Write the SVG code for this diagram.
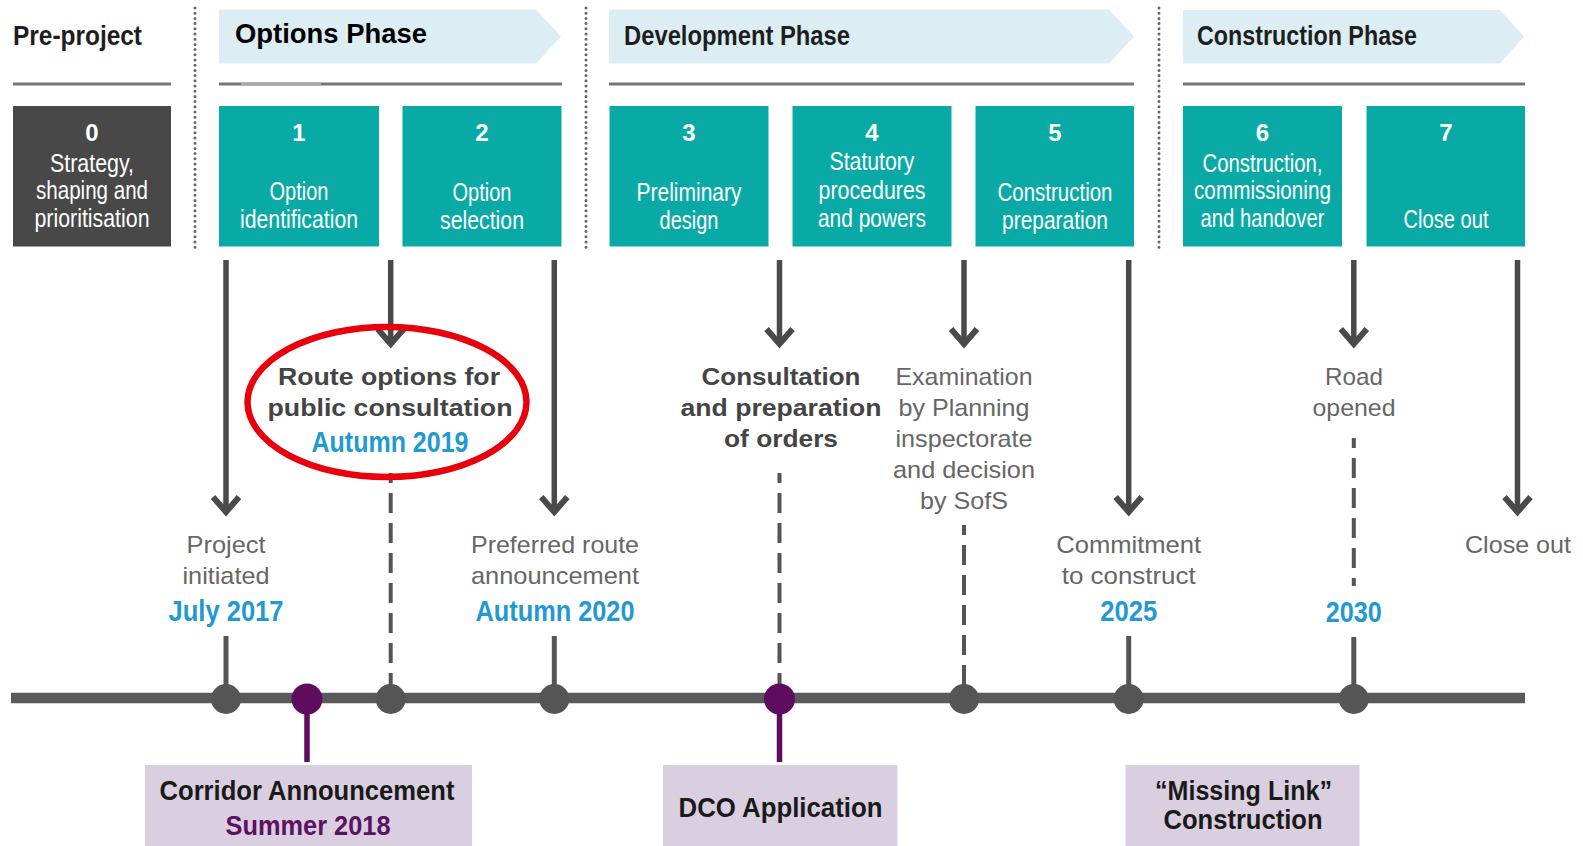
<svg xmlns="http://www.w3.org/2000/svg" width="1583" height="846" viewBox="0 0 1583 846">
<style>
.nar{font-family:"Liberation Sans Narrow","Liberation Sans",Arial,sans-serif}
.reg{font-family:"Liberation Sans",Arial,sans-serif}
.hdr{font-size:27px;font-weight:bold;fill:#1e1e1e}
.ban{fill:#dceef3}
.rule{stroke:#767676;stroke-width:3}
.dots{stroke:#666;stroke-width:3;stroke-linecap:round;stroke-dasharray:0 5.2}
.box{fill:#09aaa6}
.box0{fill:#484848}
.num{font-size:24px;font-weight:bold;fill:#fff;text-anchor:middle}
.lab{font-size:25px;fill:#fff;text-anchor:middle}
.mid{font-size:24px;fill:#666;text-anchor:middle}
.midb{font-size:24px;font-weight:bold;fill:#444;text-anchor:middle}
.date{font-size:30px;font-weight:bold;fill:#2399d3;text-anchor:middle}
.arrow{stroke:#4a4a4a;stroke-width:5.5;fill:none}
.dash{stroke:#555;stroke-width:4;stroke-dasharray:20 10;stroke-dashoffset:10;fill:none}
.stub{stroke:#555;stroke-width:5;fill:none}
.pstub{stroke:#5e0d5e;stroke-width:5.5;fill:none}
.dot{fill:#555}
.pdot{fill:#5e0d5e}
.bbox{fill:#d9cfe0}
.btxt{font-size:27px;font-weight:bold;fill:#1a1a1a;text-anchor:middle}
.ptxt{font-size:27px;font-weight:bold;fill:#5c1262;text-anchor:middle}
</style>
<defs>
<marker id="chev" markerUnits="userSpaceOnUse" viewBox="-24 -20 34 40" refX="0" refY="0" markerWidth="34" markerHeight="40" orient="auto" overflow="visible">
<path d="M-15,-13 L0,0 L-15,13" fill="none" stroke="#4a4a4a" stroke-width="6" stroke-miterlimit="10"/>
</marker>
</defs>
<rect width="1583" height="846" fill="#fff"/>

<g id="headers">
<text class="nar hdr" x="13" y="45" textLength="129" lengthAdjust="spacingAndGlyphs">Pre-project</text>
<line class="rule" x1="13" y1="84" x2="171" y2="84"/>
<polygon class="ban" points="219,9.5 536,9.5 561,36.5 536,63.5 219,63.5"/>
<text class="reg" x="235" y="43" font-size="27" font-weight="bold" fill="#000" textLength="192" lengthAdjust="spacingAndGlyphs">Options Phase</text>
<line class="rule" x1="219" y1="84" x2="562" y2="84"/>
<line x1="241" y1="84" x2="321" y2="84" stroke="#a8a8a8" stroke-width="3"/>
<polygon class="ban" points="609,9.5 1109,9.5 1134,36.5 1109,63.5 609,63.5"/>
<text class="nar hdr" x="624" y="45" textLength="226" lengthAdjust="spacingAndGlyphs">Development Phase</text>
<line class="rule" x1="609" y1="84" x2="1134" y2="84"/>
<polygon class="ban" points="1183,10 1500,10 1524,36.5 1500,63.5 1183,63.5"/>
<text class="nar hdr" x="1197" y="45" textLength="220" lengthAdjust="spacingAndGlyphs">Construction Phase</text>
<line class="rule" x1="1183" y1="84" x2="1525" y2="84"/>
<line class="dots" x1="195" y1="8" x2="195" y2="248"/>
<line class="dots" x1="586" y1="8" x2="586" y2="248"/>
<line class="dots" x1="1159" y1="8" x2="1159" y2="248"/>
</g>

<g id="stage0">
<rect class="box0" x="13" y="106" width="158" height="140.5"/>
<text class="nar num" x="92" y="141">0</text>
<text class="nar lab" x="92" y="171.5" textLength="84" lengthAdjust="spacingAndGlyphs">Strategy,</text>
<text class="nar lab" x="92" y="199" textLength="112" lengthAdjust="spacingAndGlyphs">shaping and</text>
<text class="nar lab" x="92" y="227" textLength="115" lengthAdjust="spacingAndGlyphs">prioritisation</text>
</g>
<g id="stage1">
<rect class="box" x="219" y="106" width="160" height="140.5"/>
<text class="nar num" x="299" y="141">1</text>
<text class="nar lab" x="299" y="199.5" textLength="59" lengthAdjust="spacingAndGlyphs">Option</text>
<text class="nar lab" x="299" y="227.5" textLength="118" lengthAdjust="spacingAndGlyphs">identification</text>
</g>
<g id="stage2">
<rect class="box" x="402.5" y="106" width="159" height="140.5"/>
<text class="nar num" x="482" y="141">2</text>
<text class="nar lab" x="482" y="201" textLength="59" lengthAdjust="spacingAndGlyphs">Option</text>
<text class="nar lab" x="482" y="229" textLength="84" lengthAdjust="spacingAndGlyphs">selection</text>
</g>
<g id="stage3">
<rect class="box" x="609.5" y="106" width="159" height="140.5"/>
<text class="nar num" x="689" y="141">3</text>
<text class="nar lab" x="689" y="201" textLength="105" lengthAdjust="spacingAndGlyphs">Preliminary</text>
<text class="nar lab" x="689" y="229" textLength="59" lengthAdjust="spacingAndGlyphs">design</text>
</g>
<g id="stage4">
<rect class="box" x="792.5" y="106" width="159" height="140.5"/>
<text class="nar num" x="872" y="141">4</text>
<text class="nar lab" x="872" y="170" textLength="85" lengthAdjust="spacingAndGlyphs">Statutory</text>
<text class="nar lab" x="872" y="199" textLength="107" lengthAdjust="spacingAndGlyphs">procedures</text>
<text class="nar lab" x="872" y="227" textLength="108" lengthAdjust="spacingAndGlyphs">and powers</text>
</g>
<g id="stage5">
<rect class="box" x="975.5" y="106" width="158.5" height="140.5"/>
<text class="nar num" x="1055" y="141">5</text>
<text class="nar lab" x="1055" y="201" textLength="115" lengthAdjust="spacingAndGlyphs">Construction</text>
<text class="nar lab" x="1055" y="229" textLength="106" lengthAdjust="spacingAndGlyphs">preparation</text>
</g>
<g id="stage6">
<rect class="box" x="1183" y="106" width="159" height="140.5"/>
<text class="nar num" x="1262.5" y="141">6</text>
<text class="nar lab" x="1262.5" y="171.5" textLength="120" lengthAdjust="spacingAndGlyphs">Construction,</text>
<text class="nar lab" x="1262.5" y="199" textLength="137" lengthAdjust="spacingAndGlyphs">commissioning</text>
<text class="nar lab" x="1262.5" y="227" textLength="124" lengthAdjust="spacingAndGlyphs">and handover</text>
</g>
<g id="stage7">
<rect class="box" x="1366.5" y="106" width="158.5" height="140.5"/>
<text class="nar num" x="1446" y="141">7</text>
<text class="nar lab" x="1446" y="228" textLength="85" lengthAdjust="spacingAndGlyphs">Close out</text>
</g>

<g id="connectors">
<line class="arrow" x1="226" y1="260" x2="226" y2="512" marker-end="url(#chev)"/>
<line class="arrow" x1="390.7" y1="260" x2="390.7" y2="344" marker-end="url(#chev)"/>
<line class="arrow" x1="554.3" y1="260" x2="554.3" y2="512" marker-end="url(#chev)"/>
<line class="arrow" x1="779.5" y1="260" x2="779.5" y2="344" marker-end="url(#chev)"/>
<line class="arrow" x1="964" y1="260" x2="964" y2="344" marker-end="url(#chev)"/>
<line class="arrow" x1="1128.7" y1="260" x2="1128.7" y2="512" marker-end="url(#chev)"/>
<line class="arrow" x1="1353.8" y1="260" x2="1353.8" y2="344" marker-end="url(#chev)"/>
<line class="arrow" x1="1517.5" y1="260" x2="1517.5" y2="512" marker-end="url(#chev)"/>
<line class="dash" x1="390.7" y1="473" x2="390.7" y2="686"/>
<line class="dash" x1="779.5" y1="473" x2="779.5" y2="686"/>
<line class="dash" x1="964" y1="525" x2="964" y2="686"/>
<line class="dash" x1="1353.8" y1="438" x2="1353.8" y2="586"/>
<line class="stub" x1="226" y1="636" x2="226" y2="699"/>
<line class="stub" x1="554.3" y1="636" x2="554.3" y2="699"/>
<line class="stub" x1="1128.7" y1="636" x2="1128.7" y2="699"/>
<line class="stub" x1="1353.8" y1="637" x2="1353.8" y2="699"/>
<line class="pstub" x1="307" y1="699" x2="307" y2="762"/>
<line class="pstub" x1="779.5" y1="699" x2="779.5" y2="762"/>
<line x1="11" y1="698" x2="1525" y2="698" stroke="#5a5a5a" stroke-width="10.5"/>
</g>

<g id="m-project">
<text class="reg mid" x="226" y="553" textLength="79" lengthAdjust="spacingAndGlyphs">Project</text>
<text class="reg mid" x="226" y="584" textLength="87" lengthAdjust="spacingAndGlyphs">initiated</text>
<text class="nar date" x="226" y="621" textLength="115" lengthAdjust="spacingAndGlyphs">July 2017</text>
<circle class="dot" cx="226" cy="699" r="15"/>
</g>
<g id="m-corridor">
<circle class="pdot" cx="307" cy="699" r="15.5"/>
<rect class="bbox" x="145" y="765" width="327" height="81"/>
<text class="nar btxt" x="307" y="800" textLength="295" lengthAdjust="spacingAndGlyphs">Corridor Announcement</text>
<text class="nar ptxt" x="308" y="835" textLength="165" lengthAdjust="spacingAndGlyphs">Summer 2018</text>
</g>
<g id="m-route">
<text class="reg midb" x="389" y="385" textLength="222" lengthAdjust="spacingAndGlyphs">Route options for</text>
<text class="reg midb" x="390" y="416" textLength="245" lengthAdjust="spacingAndGlyphs">public consultation</text>
<text class="nar date" x="390" y="452" textLength="157" lengthAdjust="spacingAndGlyphs">Autumn 2019</text>
<ellipse cx="387" cy="402" rx="139.5" ry="75" fill="none" stroke="#e8000d" stroke-width="6.5"/>
<circle class="dot" cx="390.7" cy="699" r="15"/>
</g>
<g id="m-preferred">
<text class="reg mid" x="555" y="553" textLength="168" lengthAdjust="spacingAndGlyphs">Preferred route</text>
<text class="reg mid" x="555" y="584" textLength="168" lengthAdjust="spacingAndGlyphs">announcement</text>
<text class="nar date" x="555" y="621" textLength="159" lengthAdjust="spacingAndGlyphs">Autumn 2020</text>
<circle class="dot" cx="554.3" cy="699" r="15"/>
</g>
<g id="m-consultation">
<text class="reg midb" x="781" y="385" textLength="159" lengthAdjust="spacingAndGlyphs">Consultation</text>
<text class="reg midb" x="781" y="416" textLength="201" lengthAdjust="spacingAndGlyphs">and preparation</text>
<text class="reg midb" x="781" y="447" textLength="114" lengthAdjust="spacingAndGlyphs">of orders</text>
<circle class="pdot" cx="779.5" cy="699" r="15.5"/>
</g>
<g id="m-dco">
<rect class="bbox" x="663" y="765" width="234.5" height="81"/>
<text class="nar btxt" x="780.5" y="817" textLength="204" lengthAdjust="spacingAndGlyphs">DCO Application</text>
</g>
<g id="m-examination">
<text class="reg mid" x="964" y="385" textLength="137" lengthAdjust="spacingAndGlyphs">Examination</text>
<text class="reg mid" x="964" y="416" textLength="131" lengthAdjust="spacingAndGlyphs">by Planning</text>
<text class="reg mid" x="964" y="447" textLength="137" lengthAdjust="spacingAndGlyphs">inspectorate</text>
<text class="reg mid" x="964" y="478" textLength="142" lengthAdjust="spacingAndGlyphs">and decision</text>
<text class="reg mid" x="964" y="509" textLength="88" lengthAdjust="spacingAndGlyphs">by SofS</text>
<circle class="dot" cx="964" cy="699" r="15"/>
</g>
<g id="m-commitment">
<text class="reg mid" x="1128.7" y="553" textLength="145" lengthAdjust="spacingAndGlyphs">Commitment</text>
<text class="reg mid" x="1128.7" y="584" textLength="134" lengthAdjust="spacingAndGlyphs">to construct</text>
<text class="nar date" x="1128.7" y="621" textLength="57" lengthAdjust="spacingAndGlyphs">2025</text>
<circle class="dot" cx="1128.7" cy="699" r="15"/>
</g>
<g id="m-missing">
<rect class="bbox" x="1125.5" y="765" width="234" height="81"/>
<text class="nar btxt" x="1243.5" y="800" textLength="177" lengthAdjust="spacingAndGlyphs">“Missing Link”</text>
<text class="nar btxt" x="1243" y="829" textLength="159" lengthAdjust="spacingAndGlyphs">Construction</text>
</g>
<g id="m-road">
<text class="reg mid" x="1354" y="385" textLength="58" lengthAdjust="spacingAndGlyphs">Road</text>
<text class="reg mid" x="1354" y="416" textLength="83" lengthAdjust="spacingAndGlyphs">opened</text>
<text class="nar date" x="1353.8" y="622" textLength="56" lengthAdjust="spacingAndGlyphs">2030</text>
<circle class="dot" cx="1353.8" cy="699" r="15"/>
</g>
<g id="m-closeout">
<text class="reg mid" x="1518" y="553" textLength="106" lengthAdjust="spacingAndGlyphs">Close out</text>
</g>
</svg>
